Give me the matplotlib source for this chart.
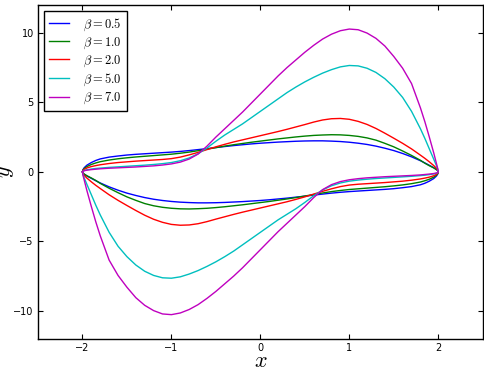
import numpy as np
import matplotlib
matplotlib.use("Agg")
import matplotlib.pyplot as plt

plt.rcParams["mathtext.fontset"] = "cm"
plt.rcParams["axes.linewidth"] = 1.0

# sample positions along x (same grid for both branches)
x_grid = [-2.0, -1.995, -1.98, -1.95, -1.9, -1.85, -1.8, -1.7, -1.6, -1.5, -1.4, -1.3,
          -1.2, -1.1, -1.0, -0.9, -0.8, -0.7, -0.6, -0.5, -0.4, -0.3, -0.2, -0.1, 0.0,
          0.1, 0.2, 0.3, 0.4, 0.5, 0.6, 0.7, 0.8, 0.9, 1.0, 1.1, 1.2, 1.3, 1.4, 1.5,
          1.6, 1.7, 1.8, 1.85, 1.9, 1.95, 1.98, 1.995, 2.0]

betas = ["0.5", "1.0", "2.0", "5.0", "7.0"]

# upper branch (y > 0)
upper_b05 = [0, 0.15, 0.3, 0.48, 0.67, 0.82, 0.93, 1.06, 1.14, 1.21, 1.26, 1.3, 1.34,
             1.38, 1.42, 1.47, 1.53, 1.6, 1.67, 1.75, 1.82, 1.89, 1.95, 2.01, 2.06,
             2.1, 2.14, 2.17, 2.2, 2.22, 2.23, 2.23, 2.21, 2.18, 2.13, 2.06, 1.97,
             1.85, 1.7, 1.53, 1.32, 1.08, 0.8, 0.64, 0.47, 0.3, 0.17, 0.08, 0]
upper_b10 = [0, 0.12, 0.24, 0.38, 0.53, 0.64, 0.73, 0.85, 0.94, 1.01, 1.07, 1.12, 1.17,
             1.22, 1.27, 1.34, 1.42, 1.52, 1.63, 1.74, 1.85, 1.95, 2.04, 2.13, 2.21,
             2.29, 2.37, 2.44, 2.51, 2.57, 2.62, 2.65, 2.67, 2.66, 2.62, 2.55, 2.44,
             2.28, 2.05, 1.8, 1.5, 1.18, 0.83, 0.62, 0.44, 0.28, 0.16, 0.08, 0]
upper_b20 = [0, 0.09, 0.18, 0.28, 0.38, 0.45, 0.51, 0.6, 0.67, 0.72, 0.77, 0.81, 0.85,
             0.89, 0.95, 1.06, 1.22, 1.4, 1.6, 1.8, 1.98, 2.15, 2.3, 2.45, 2.6,
             2.75, 2.9, 3.06, 3.23, 3.4, 3.58, 3.73, 3.82, 3.84, 3.78, 3.63, 3.41,
             3.12, 2.78, 2.42, 2.05, 1.65, 1.2, 0.97, 0.72, 0.45, 0.26, 0.12, 0]
upper_b50 = [0, 0.05, 0.1, 0.15, 0.2, 0.24, 0.27, 0.32, 0.36, 0.4, 0.44, 0.48, 0.53,
             0.59, 0.67, 0.8, 1.0, 1.3, 1.72, 2.2, 2.65, 3.05, 3.45, 3.9, 4.35,
             4.8, 5.25, 5.7, 6.1, 6.47, 6.8, 7.1, 7.35, 7.55, 7.65, 7.62, 7.45,
             7.15, 6.7, 6.1, 5.35, 4.35, 3.1, 2.4, 1.65, 0.9, 0.45, 0.18, 0]
upper_b70 = [0, 0.04, 0.08, 0.12, 0.16, 0.19, 0.22, 0.26, 0.29, 0.32, 0.35, 0.39, 0.43,
             0.49, 0.57, 0.7, 0.92, 1.28, 1.85, 2.5, 3.1, 3.7, 4.3, 4.95, 5.6,
             6.25, 6.9, 7.5, 8.05, 8.6, 9.1, 9.55, 9.9, 10.15, 10.27, 10.22, 9.98,
             9.6, 9.05, 8.3, 7.45, 6.35, 4.6, 3.6, 2.5, 1.35, 0.6, 0.22, 0]

# lower branch (y < 0) on the same x grid
lower_b05 = [0, -0.08, -0.17, -0.3, -0.47, -0.64, -0.8, -1.08, -1.32, -1.53, -1.7, -1.85,
             -1.97, -2.06, -2.13, -2.18, -2.21, -2.23, -2.23, -2.22, -2.2, -2.17, -2.14,
             -2.1, -2.06, -2.01, -1.95, -1.89, -1.82, -1.75, -1.67, -1.6, -1.53, -1.47,
             -1.42, -1.38, -1.34, -1.3, -1.26, -1.21, -1.14, -1.06, -0.93, -0.82, -0.67,
             -0.48, -0.3, -0.15, 0]
lower_b10 = [0, -0.08, -0.16, -0.28, -0.44, -0.62, -0.83, -1.18, -1.5, -1.8, -2.05, -2.28,
             -2.44, -2.55, -2.62, -2.66, -2.67, -2.65, -2.62, -2.57, -2.51, -2.44, -2.37,
             -2.29, -2.21, -2.13, -2.04, -1.95, -1.85, -1.74, -1.63, -1.52, -1.42, -1.34,
             -1.27, -1.22, -1.17, -1.12, -1.07, -1.01, -0.94, -0.85, -0.73, -0.64, -0.53,
             -0.38, -0.24, -0.12, 0]
lower_b20 = [0, -0.12, -0.26, -0.45, -0.72, -0.97, -1.2, -1.65, -2.05, -2.42, -2.78, -3.12,
             -3.41, -3.63, -3.78, -3.84, -3.82, -3.73, -3.58, -3.4, -3.23, -3.06, -2.9,
             -2.75, -2.6, -2.45, -2.3, -2.15, -1.98, -1.8, -1.6, -1.4, -1.22, -1.06,
             -0.95, -0.89, -0.85, -0.81, -0.77, -0.72, -0.67, -0.6, -0.51, -0.45, -0.38,
             -0.28, -0.18, -0.09, 0]
lower_b50 = [0, -0.18, -0.45, -0.9, -1.65, -2.4, -3.1, -4.35, -5.35, -6.1, -6.7, -7.15,
             -7.45, -7.62, -7.65, -7.55, -7.35, -7.1, -6.8, -6.47, -6.1, -5.7, -5.25,
             -4.8, -4.35, -3.9, -3.45, -3.05, -2.65, -2.2, -1.72, -1.3, -1.0, -0.8,
             -0.67, -0.59, -0.53, -0.48, -0.44, -0.4, -0.36, -0.32, -0.27, -0.24, -0.2,
             -0.15, -0.1, -0.05, 0]
lower_b70 = [0, -0.22, -0.6, -1.35, -2.5, -3.6, -4.6, -6.35, -7.45, -8.3, -9.05, -9.6,
             -9.98, -10.22, -10.27, -10.15, -9.9, -9.55, -9.1, -8.6, -8.05, -7.5, -6.9,
             -6.25, -5.6, -4.95, -4.3, -3.7, -3.1, -2.5, -1.85, -1.28, -0.92, -0.7,
             -0.57, -0.49, -0.43, -0.39, -0.35, -0.32, -0.29, -0.26, -0.22, -0.19, -0.16,
             -0.12, -0.08, -0.04, 0]

uppers = [upper_b05, upper_b10, upper_b20, upper_b50, upper_b70]
lowers = [lower_b05, lower_b10, lower_b20, lower_b50, lower_b70]
colors = ["b", "g", "r", "c", "m"]


fig = plt.figure(figsize=(4.84, 3.70), dpi=100)
ax = fig.add_axes([0.0785, 0.0846, 0.9188, 0.9019])

x = np.array(x_grid)
for beta, up, lo, color in zip(betas, uppers, lowers, colors):
    # go along the upper branch, then back along the lower one
    xs = np.concatenate([x, x[::-1]])
    ys = np.concatenate([np.array(up), np.array(lo)[::-1]])
    ax.plot(xs, ys, color=color, linewidth=1.0, label=r"$\beta=%s$" % beta)

ax.set_xlim(-2.5, 2.5)
ax.set_ylim(-12, 12)
ax.set_xticks([-2, -1, 0, 1, 2])
ax.set_yticks([-10, -5, 0, 5, 10])
ax.tick_params(direction="in", top=True, right=True, length=3.5, width=0.8,
               labelsize=7, pad=3)

ax.set_xlabel("$x$", fontsize=16, labelpad=-1)
ax.set_ylabel("$y$", fontsize=16, labelpad=-2)

ax.legend(
    loc="upper left",
    fontsize=9,
    handlelength=1.6,
    handletextpad=1.1,
    labelspacing=0.22,
    borderaxespad=0.5,
    fancybox=False,
    edgecolor="black",
    framealpha=1.0,
)

fig.savefig("out.png", dpi=100)
plt.close(fig)
